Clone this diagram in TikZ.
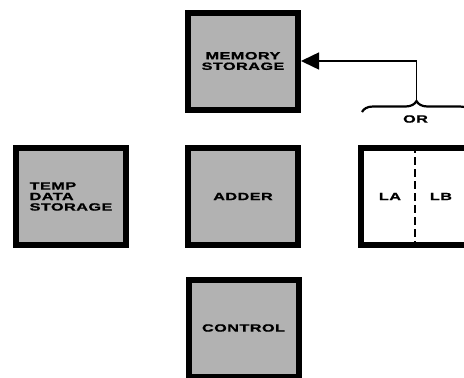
\documentclass[tikz,border=0pt]{standalone}
\usepackage{fontspec}
\newfontfamily\lab{Liberation Sans}[FakeStretch=1.55,LetterSpace=4,BoldFeatures={FakeBold=1.2}]
\usetikzlibrary{arrows.meta,decorations.pathreplacing}
\begin{document}
\begin{tikzpicture}[x=1pt,y=-1pt,
  unit/.style={draw=black,line width=6pt,fill=black!30,minimum width=110pt,minimum height=97pt,inner sep=0pt,
    font={\lab\bfseries\fontsize{10.5}{10.5}\selectfont}},
  regbox/.style={draw=black,line width=6pt,fill=white,minimum width=140pt,minimum height=97pt,inner sep=0pt},
  lbl/.style={font={\lab\bfseries\fontsize{10.5}{10.5}\selectfont},inner sep=0pt},
  conn/.style={line width=1.5pt,-{Triangle[length=18pt,width=17pt]}}]
\useasboundingbox (0,0) rectangle (464,378);
\clip (0,0) rectangle (464,378);
\fill[white] (0,0) rectangle (464,378);
\node[unit,align=center] (mem) at (243,61) {MEMORY\\STORAGE};
\node[unit,align=left] (temp) at (71,196.5) {TEMP\\DATA\\STORAGE};
\node[unit] (adder) at (243,196.5) {ADDER};
\node[unit] (ctrl) at (243.5,328) {CONTROL};
\node[regbox] (reg) at (431,196.5) {};
\coordinate (dv) at (415,0);
\draw[line width=1.6pt,dash pattern=on 8pt off 4pt] (reg.north -| dv) -- (reg.south -| dv);
\node[lbl] (la) at (390,196.5) {LA};
\node[lbl] (lb) at (441,196.5) {LB};
\coordinate (bl) at (362,112);
\coordinate (br) at (471,112);
\draw[line width=2.2pt,decorate,decoration={brace,amplitude=11pt}] (bl) -- (br);
\coordinate (bt) at (416.5,101);
\node[lbl] (or) at (415.5,119) {OR};
\draw[conn] (bt) |- (mem.east);
\end{tikzpicture}
\end{document}
